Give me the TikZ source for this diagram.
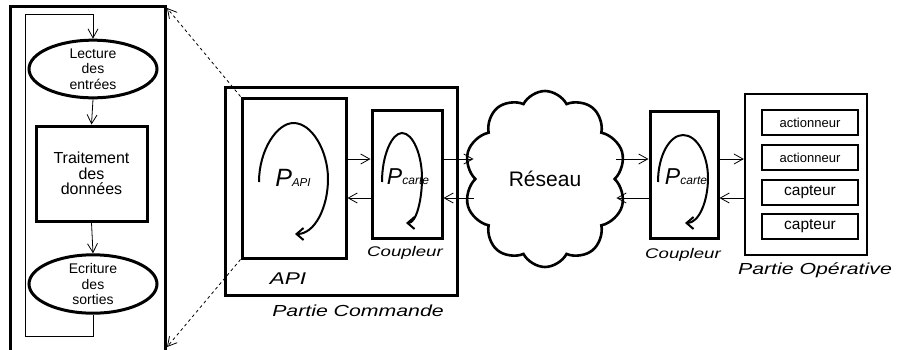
\documentclass[tikz,border=0pt]{standalone}
\usepackage{fontspec}
\setmainfont{Liberation Sans}
\newfontfamily\widefont[FakeStretch=1.33]{Liberation Sans}
\usetikzlibrary{shapes.geometric,shapes.symbols,arrows.meta}
\newcommand\myfs[2]{\fontsize{#1}{#2}\selectfont}
\tikzset{
  heavy/.style={draw, line width=3pt, inner sep=0pt},
  boxnode/.style={heavy, rectangle},
  ovalnode/.style={heavy, ellipse},
  arr/.style={line width=0.8pt, -{Straight Barb[length=9pt,width=10pt,line width=0.8pt]}},
  looparr/.style={line width=2pt, -{Straight Barb[length=7pt,width=12pt,line width=2pt]}},
  label/.style={inner sep=0pt, font=\widefont\itshape\myfs{16}{18}},
}
\begin{document}
\begin{tikzpicture}[x=1pt,y=-1pt]
\useasboundingbox (0,0) rectangle (898,349);
% left detail box
\node[boxnode, minimum width=155pt, minimum height=348pt] (lbox) at (87.5,180) {};
\node[ovalnode, minimum width=128pt, minimum height=52pt, align=center, font=\myfs{14}{15.5}] (e1) at (93,69) {Lecture\\des\\entrées};
\node[boxnode, minimum width=111pt, minimum height=95pt, align=center, font=\myfs{16}{15.5}] (tr) at (91.5,173.5) {Traitement\\des\\données};
\node[ovalnode, minimum width=128pt, minimum height=52pt, align=center, font=\myfs{14}{15.5}] (e2) at (93,284) {Ecriture\\des\\sorties};
\coordinate (lc1) at (93,336);
\coordinate (lc2) at (25,336);
\coordinate (lc3) at (25,14);
\coordinate (lc4) at (93,14);
\draw[arr] (e1.south) -- (tr.north);
\draw[arr] (tr.south) -- (e2.north);
\draw[arr] (e2.south) -- (lc1) -- (lc2) -- (lc3) -- (lc4) -- (e1.north);
% partie commande
\node[boxnode, minimum width=232pt, minimum height=208pt] (pc) at (341,191) {};
\node[boxnode, minimum width=104pt, minimum height=160pt] (api) at (294,178) {};
\node[boxnode, minimum width=70pt, minimum height=128pt] (c1) at (407,174) {};
\node[label] (lapi) at (288,279) {\myfs{17}{19}API};
\node[label] (lc1l) at (405,253) {\myfs{14}{16}Coupleur};
\node[label] (lpc) at (358,311) {Partie Commande};
% loops
\draw[looparr] (259,182) .. controls (259,150) and (277,123) .. (293.5,123)
  .. controls (312,123) and (328,151) .. (328,179)
  .. controls (328,207) and (315,234) .. (295,234);
\node[inner sep=0pt] (papi) at (293,178) {\itshape\myfs{25}{25}P\myfs{11.5}{12}API};
\draw[looparr] (382,182) .. controls (382,155) and (392,133) .. (402,133)
  .. controls (413,133) and (422,155) .. (422,178)
  .. controls (422,201) and (416,223) .. (406,223);
\node[inner sep=0pt] (pc1) at (408,177) {\itshape\myfs{23}{23}P\myfs{12}{12}carte};
% cloud
\node[cloud, draw, line width=2.6pt, cloud puffs=10, cloud puff arc=125, aspect=0.9, minimum width=162pt, minimum height=176pt, inner sep=0pt, font=\myfs{21}{21}] (net) at (545,179) {Réseau};
% coupleur 2
\node[boxnode, minimum width=68pt, minimum height=127pt] (c2) at (684,174.5) {};
\node[label] (lc2l) at (683,255) {\myfs{14}{16}Coupleur};
\draw[looparr] (658,182) .. controls (658,155) and (670,135) .. (683,135)
  .. controls (697,135) and (708,155) .. (708,178)
  .. controls (708,201) and (699,223) .. (685,223);
\node[inner sep=0pt] (pc2) at (686,177) {\itshape\myfs{23}{23}P\myfs{12}{12}carte};
% partie operative
\node[draw, line width=2.4pt, minimum width=122pt, minimum height=161pt, inner sep=0pt] (po) at (806,174.5) {};
\node[boxnode, line width=2.6pt, minimum width=96pt, minimum height=25pt, font=\myfs{13}{13}] (a1) at (810,122.5) {actionneur};
\node[boxnode, line width=2.6pt, minimum width=96pt, minimum height=25pt, font=\myfs{13}{13}] (a2) at (810,157.5) {actionneur};
\node[boxnode, line width=2.6pt, minimum width=96pt, minimum height=25pt, font=\myfs{15.5}{15.5}] (s1) at (810,192.5) {capteur};
\node[boxnode, line width=2.6pt, minimum width=96pt, minimum height=25pt, font=\myfs{15.5}{15.5}] (s2) at (810,226.5) {capteur};
\node[label] (lpo) at (815,270) {Partie Opérative};
% horizontal arrows
\coordinate (ya) at (0,159);
\coordinate (yb) at (0,198);
\draw[arr] (api.east |- ya) -- (c1.west |- ya);
\draw[arr] (c1.west |- yb) -- (api.east |- yb);
\draw[arr] (c1.east |- ya) -- (net.west |- ya);
\draw[arr] (net.west |- yb) -- (c1.east |- yb);
\draw[arr] (net.east |- ya) -- (c2.west |- ya);
\draw[arr] (c2.west |- yb) -- (net.east |- yb);
\draw[arr] (c2.east |- ya) -- (po.west |- ya);
\draw[arr] (po.west |- yb) -- (c2.east |- yb);
% zoom dashed lines
\coordinate (lbt) at (167,8);
\coordinate (lbb) at (167,347);
\draw[arr, dash pattern=on 3pt off 3pt] (api.north west) -- (lbt);
\draw[arr, dash pattern=on 3pt off 3pt] (api.south west) -- (lbb);
\end{tikzpicture}
\end{document}
